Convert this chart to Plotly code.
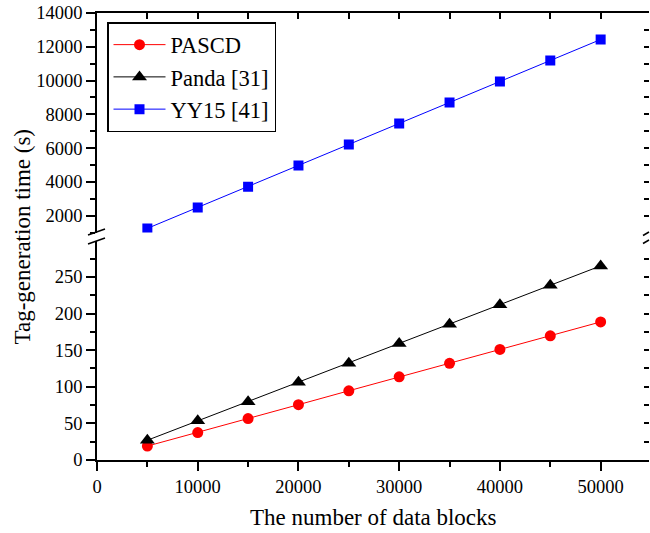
import plotly.graph_objects as go

blocks = [5000, 10000, 15000, 20000, 25000, 30000, 35000, 40000, 45000, 50000]
pascd = [19, 37.5, 56.5, 75.5, 94.5, 113.5, 132, 151, 169.5, 188.5]
panda = [27, 53.5, 79.5, 106, 132, 159, 185.5, 212, 238.5, 265]
yy15 = [1250, 2490, 3720, 4970, 6220, 7460, 8700, 9950, 11190, 12430]

lower_ticks = [0, 50, 100, 150, 200, 250]
upper_ticks = [2000, 4000, 6000, 8000, 10000, 12000, 14000]
x_ticks = [0, 10000, 20000, 30000, 40000, 50000]

FONT = "Liberation Serif, Times New Roman, serif"
W, H = 650, 533
# plot area in screen pixels: x 97..649, y 13..460
L, R, T, B = 97, 1, 13, 533 - 460
PW, PH = W - L - R, H - T - B

def px(x):
    return (x - L) / PW

def py(y):
    return (H - B - y) / PH

lower_top = py(241)
upper_bot = py(232.6)

fig = go.Figure()
fig.add_trace(go.Scatter(x=blocks, y=pascd, name="PASCD", mode="lines+markers",
                         line=dict(color="#ff0000", width=1),
                         marker=dict(symbol="circle", size=11, color="#ff0000"),
                         xaxis="x", yaxis="y"))
fig.add_trace(go.Scatter(x=blocks, y=panda, name="Panda [31]", mode="lines+markers",
                         line=dict(color="#000000", width=1),
                         marker=dict(symbol="triangle-up", size=13, color="#000000"),
                         xaxis="x", yaxis="y"))
fig.add_trace(go.Scatter(x=blocks, y=yy15, name="YY15 [41]", mode="lines+markers",
                         line=dict(color="#0000ff", width=1),
                         marker=dict(symbol="square", size=10, color="#0000ff"),
                         xaxis="x", yaxis="y2"))
# empty helper traces so the frame (top / right) axes get their subplots
for xa, ya in [("x2", "y2"), ("x", "y3"), ("x", "y4")]:
    fig.add_trace(go.Scatter(x=[], y=[], xaxis=xa, yaxis=ya, showlegend=False,
                             hoverinfo="skip"))

tickfont = dict(family=FONT, size=18.5, color="black")
axcommon = dict(showgrid=False, zeroline=False, linecolor="black", linewidth=1.5,
                tickcolor="black", tickwidth=1.5, tickfont=tickfont,
                automargin=False, tickformat="d", ticklabeloverflow="allow")

fig.update_layout(
    width=W, height=H,
    margin=dict(l=L, r=R, t=T, b=B, autoexpand=False),
    plot_bgcolor="white", paper_bgcolor="white",
    font=dict(family=FONT, color="black"),
    xaxis=dict(range=[0, 54800], domain=[0, 1], anchor="y", showline=True,
               ticks="outside", ticklen=9, tickvals=x_ticks,
               minor=dict(dtick=5000, tick0=0, ticks="outside", ticklen=5,
                          tickcolor="black", tickwidth=1.5),
               **axcommon),
    xaxis2=dict(range=[0, 54800], overlaying="x", anchor="y2", side="top",
                showline=True, ticks="inside", ticklen=6, tickvals=list(range(0, 55000, 5000)),
                showticklabels=False, **axcommon),
    yaxis=dict(range=[0, 299], domain=[0, lower_top], anchor="x", showline=True,
               ticks="outside", ticklen=9, tickvals=lower_ticks,
               minor=dict(dtick=25, tick0=0, ticks="outside", ticklen=5,
                          tickcolor="black", tickwidth=1.5),
               **axcommon),
    yaxis2=dict(range=[1001, 14000], domain=[upper_bot, 1], anchor="x", showline=True,
                ticks="outside", ticklen=9, tickvals=upper_ticks,
                minor=dict(dtick=1000, tick0=0, ticks="outside", ticklen=5,
                           tickcolor="black", tickwidth=1.5),
                **axcommon),
    yaxis3=dict(range=[0, 299], overlaying="y", anchor="x", side="right",
                showline=False, ticks="inside", ticklen=5,
                tickvals=list(range(25, 300, 25)), showticklabels=False, **axcommon),
    yaxis4=dict(range=[1001, 14000], overlaying="y2", anchor="x", side="right",
                showline=False, ticks="inside", ticklen=5,
                tickvals=list(range(2000, 14001, 1000)), showticklabels=False, **axcommon),
    legend=dict(x=px(107), y=py(22), xanchor="left", yanchor="top",
                bgcolor="white", bordercolor="black", borderwidth=1.5,
                font=dict(family=FONT, size=22.5, color="black"),
                itemwidth=52, tracegroupgap=0),
    showlegend=True,
)

fig.add_annotation(text="Tag-generation time (s)", xref="paper", yref="paper",
                   x=px(22), y=py(236.5), textangle=-90, showarrow=False,
                   font=dict(family=FONT, size=23, color="black"),
                   xanchor="center", yanchor="middle")
fig.add_annotation(text="The number of data blocks", xref="paper", yref="paper",
                   x=px(373.5), y=py(517), showarrow=False,
                   font=dict(family=FONT, size=23, color="black"),
                   xanchor="center", yanchor="middle")

# axis break marks
for (x0, y0, x1, y1) in [(88, 235, 105, 229), (88, 244, 105, 238),
                         (643, 235.5, 649, 232), (643, 243.5, 649, 240)]:
    fig.add_shape(type="line", xref="paper", yref="paper",
                  x0=px(x0), y0=py(y0), x1=px(x1), y1=py(y1),
                  line=dict(color="black", width=1.5))

fig.write_html("out.html", config={"displayModeBar": False},
               post_script="document.body.style.margin='0';document.body.style.overflow='hidden';")
